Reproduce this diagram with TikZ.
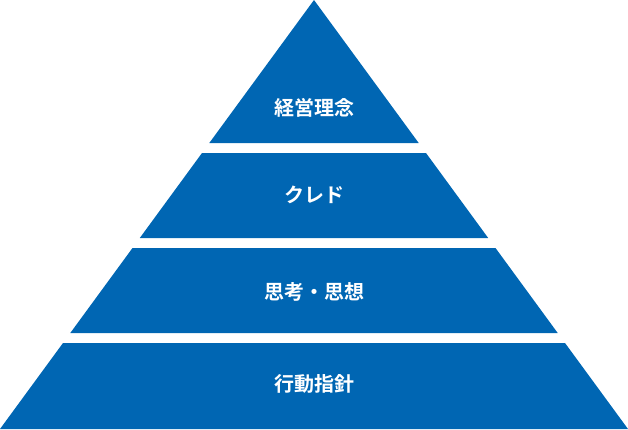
\documentclass[tikz,border=0pt]{standalone}
\usepackage{fontspec}
\newfontfamily\jpfont{Noto Sans CJK JP}[BoldFont={* Bold}]
\definecolor{pyrblue}{RGB}{0,102,179}
\tikzset{
  layer/.style={fill=pyrblue, draw=none},
  lbl/.style={text=white, font=\jpfont\bfseries\fontsize{20}{24}\selectfont}
}
\begin{document}
\begin{tikzpicture}[x=1pt, y=-1pt]
        \useasboundingbox (0, 0) rectangle (628, 429);
        \fill[layer] (314, 0) -- (418.7, 143) -- (209.3, 143) -- cycle;
        \fill[layer] (202, 153) -- (426, 153) -- (488.2, 238) -- (139.8, 238) -- cycle;
        \fill[layer] (132.5, 248) -- (495.5, 248) -- (557.7, 333) -- (70.3, 333) -- cycle;
        \fill[layer] (63, 343) -- (565, 343) -- (628, 429) -- (0, 429) -- cycle;
        \node[lbl] (rinen) at (314, 108) {経営理念};
        \node[lbl] (credo) at (314, 195) {クレド};
        \node[lbl] (shiko) at (314, 292) {思考・思想};
        \node[lbl] (shishin) at (314, 384) {行動指針};
\end{tikzpicture}
\end{document}
